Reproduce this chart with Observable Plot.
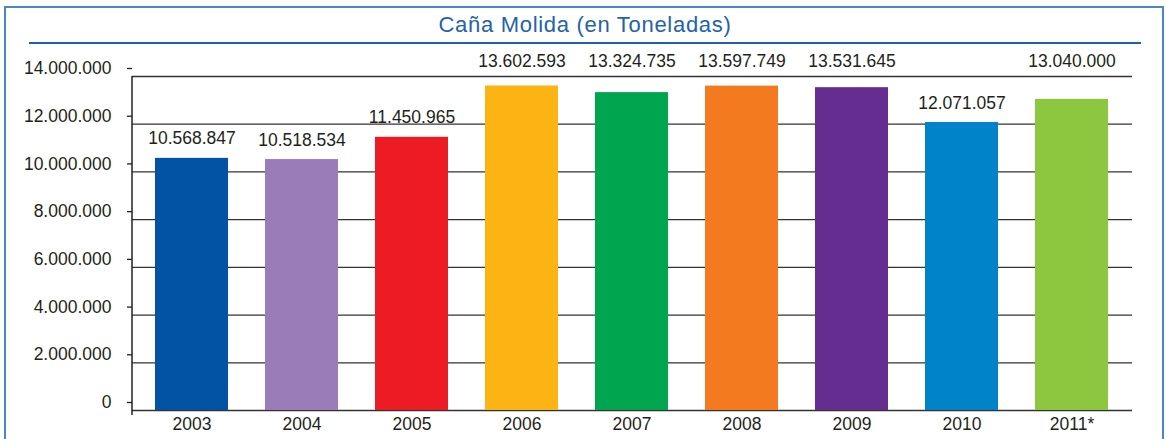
<!DOCTYPE html>
<html>
<head>
<meta charset="utf-8">
<script src="https://cdn.jsdelivr.net/npm/d3@7"></script>
<script src="https://cdn.jsdelivr.net/npm/@observablehq/plot@0.6"></script>
<style>
  html, body { margin: 0; padding: 0; background: #fff; }
  #wrap { position: relative; width: 1167px; height: 439px; overflow: hidden; font-family: "Liberation Sans", Arial, Helvetica, sans-serif; }
  #box { position: absolute; left: 4px; top: 6px; width: 1156px; height: 460px; border: 2px solid #4a86c8; border-bottom: none; }
  #title { position: absolute; left: 0; top: 12px; width: 1170px; text-align: center; color: #2462a9; font-size: 22px; letter-spacing: 0.7px; line-height: 26px; }
  #rule { position: absolute; left: 29px; top: 42px; width: 1112px; height: 2px; background: #2160a8; }
  #chart { position: absolute; left: 0; top: 0; }
</style>
</head>
<body>
<div id="wrap">
  <div id="box"></div>
  <div id="title">Caña Molida (en Toneladas)</div>
  <div id="rule"></div>
  <div id="chart"></div>
</div>
<script>
// ---- data ----
const years  = ["2003", "2004", "2005", "2006", "2007", "2008", "2009", "2010", "2011*"];
const values = [10568847, 10518534, 11450965, 13602593, 13324735, 13597749, 13531645, 12071057, 13040000];
const colors = ["#0353a4", "#9a7cb8", "#ed1c24", "#fcb415", "#00a550", "#f47a20", "#652d90", "#0083c9", "#8dc63f"];
const yTicks = [0, 2000000, 4000000, 6000000, 8000000, 10000000, 12000000, 14000000];

const data = years.map((year, i) => ({year, value: values[i]}));
const es = d3.formatLocale({decimal: ",", thousands: ".", grouping: [3], currency: ["", "€"]});
const fmt = es.format(",d");
const yMax = yTicks[yTicks.length - 1];
const high = data.filter(d => d.value > 12500000);
const low = data.filter(d => d.value <= 12500000);

const font = "17.5px";
const ink = "#231f20";

const plot = Plot.plot({
  width: 1167,
  height: 439,
  marginLeft: 132,
  marginRight: 35,
  marginTop: 76,
  marginBottom: 29,
  style: {fontFamily: '"Liberation Sans", Arial, Helvetica, sans-serif', fontSize: font, color: ink, background: "transparent", overflow: "visible"},
  x: {type: "band", domain: years, paddingInner: 0.336, paddingOuter: 0.21, label: null},
  y: {domain: [0, yMax], label: null},
  color: {type: "ordinal", domain: years, range: colors},
  marks: [
    Plot.ruleY(yTicks, {stroke: "#333", strokeWidth: 1.3}),
    Plot.barY(data, {x: "year", y: "value", fill: "year"}),
    Plot.axisY({ticks: yTicks, tickFormat: fmt, tickSize: 5, tickPadding: 16, dy: -8, fontSize: font, stroke: "#222", strokeWidth: 1.3, strokeOpacity: 1, label: null}),
    Plot.axisX({tickSize: 0, tickPadding: 7, fontSize: font, label: null}),
    Plot.text(high, {x: "year", y: () => yMax, text: d => fmt(d.value), lineAnchor: "bottom", dy: -10, fontSize: font, fill: ink}),
    Plot.text(low, {x: "year", y: "value", text: d => fmt(d.value), lineAnchor: "bottom", dy: -14, fontSize: font, fill: ink})
  ]
});

// vertical y-axis line, placed from the plot's own scales
const xs = plot.scale("x");
const ys = plot.scale("y");
const ax = Math.min(...xs.range);
d3.select(plot).append("line")
  .attr("x1", ax).attr("x2", ax)
  .attr("y1", ys.apply(yMax)).attr("y2", ys.apply(0) + 5)
  .attr("stroke", "#222").attr("stroke-width", 1.5);

document.getElementById("chart").appendChild(plot);
</script>
</body>
</html>
